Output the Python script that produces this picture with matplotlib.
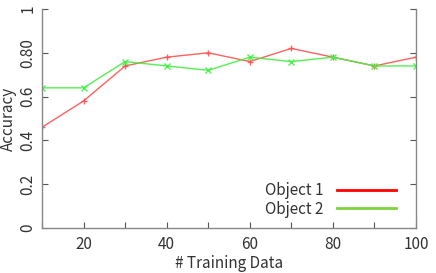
import matplotlib.pyplot as plt
from matplotlib.lines import Line2D

plt.rcParams['font.family'] = ['Noto Sans CJK JP', 'DejaVu Sans']

# data
n_train = [10, 20, 30, 40, 50, 60, 70, 80, 90, 100]
obj1 = [0.46, 0.58, 0.74, 0.78, 0.80, 0.76, 0.82, 0.78, 0.74, 0.78]
obj2 = [0.64, 0.64, 0.76, 0.74, 0.72, 0.78, 0.76, 0.78, 0.74, 0.74]
y_ticks = [0, 0.2, 0.4, 0.6, 0.8, 1.0]
y_labels = ['0', '0.2', '0.4', '0.6', '0.80', '1']

txt = '#333333'
fig = plt.figure(figsize=(4.36, 2.73), dpi=100)
ax = fig.add_axes([42 / 436, 45 / 273, 374 / 436, 219 / 273])

ax.plot(n_train, obj1, color='#ff5050', lw=1.0, marker='+', ms=5, mew=1.0, alpha=0.9)
ax.plot(n_train, obj2, color='#40f040', lw=1.0, marker='x', ms=4, mew=1.0, alpha=0.9)

ax.set_xlim(10, 100)
ax.set_ylim(0, 1)
ax.set_xticks([20, 40, 60, 80, 100])
ax.set_xticks(range(10, 101, 10), minor=True)
ax.set_yticks(y_ticks)
ax.set_yticklabels(y_labels, rotation=90, va='center')
ax.tick_params(direction='in', length=4, width=0.8, color='#555555', labelcolor=txt,
               labelsize=11, right=True, which='both')
ax.tick_params(axis='x', pad=6)
ax.tick_params(axis='y', pad=4)
for s in ['left', 'right', 'bottom']:
    ax.spines[s].set_color('#888888')
    ax.spines[s].set_linewidth(1.0)
ax.spines['top'].set_visible(False)

ax.set_xlabel('# Training Data', fontsize=11, color=txt, labelpad=1)
ax.set_ylabel('Accuracy', fontsize=11, color=txt, labelpad=2)

handles = [Line2D([], [], color='#ff0000', lw=2),
           Line2D([], [], color='#80d040', lw=2)]
ax.legend(handles, ['Object 1', 'Object 2'], loc='lower right', frameon=False,
          markerfirst=False, handlelength=3.9, fontsize=11, labelcolor=txt,
          borderaxespad=0, handletextpad=0.9, labelspacing=0.1,
          bbox_to_anchor=(0.964, 0.02))

fig.savefig('out.png', dpi=100)
